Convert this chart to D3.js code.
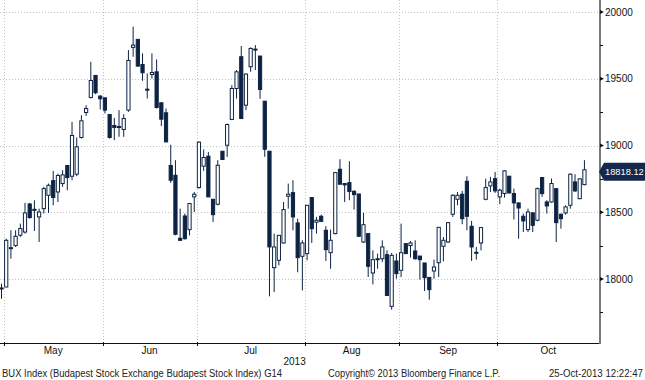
<!DOCTYPE html>
<html><head><meta charset="utf-8">
<script src="https://cdn.jsdelivr.net/npm/d3@7"></script>
<style>html,body{margin:0;padding:0;background:#fff;}svg{display:block;font-family:"Liberation Sans",Arial,sans-serif;}</style>
</head><body>
<svg id="chart" width="645" height="380"></svg>
<script>
const openV=[17933,17940,18228,18250,18328,18352,18562,18522,18465,18527,
18627,18737,18652,18715,18850,18770,18785,19060,19247,19360,
19525,19370,19357,19232,19150,19142,19120,19265,19735,19795,
19607,19422,19532,19552,19320,19245,18850,18777,18305,18472,
18370,18615,18685,18845,18920,18597,18560,18957,19002,19195,
19427,19665,19302,19590,19720,19670,19332,18957,18085,18140,
18270,18620,18647,18420,18170,18190,18610,18425,18470,18365,
18197,18340,18822,18715,18722,18657,18637,18277,18340,18045,
18148,18152,18182,17795,18135,18065,18265,18250,18210,18172,
18120,18012,18060,18122,18245,18277,18485,18597,18635,18732,
18395,18200,18270,18597,18697,18752,18615,18640,18770,18640,
18570,18470,18370,18495,18440,18760,18577,18577,18677,18485,
18495,18552,18727,18602,18707];
const highV=[17965,18302,18365,18365,18415,18570,18570,18590,18527,18690,
18715,18810,18790,18815,18850,19177,19060,19227,19302,19627,
19525,19377,19357,19232,19207,19265,19235,19715,19890,19795,
19690,19540,19690,19645,19320,19277,19005,18890,18527,18490,
18570,18652,19030,18970,18952,18597,18890,18957,19165,19452,
19565,19745,19540,19735,19752,19670,19332,18957,18340,18327,
18577,18715,18740,18452,18290,18552,18610,18465,18482,18395,
18370,18802,18897,18715,18882,18665,18637,18495,18340,18215,
18190,18290,18215,18195,18190,18415,18265,18285,18290,18172,
18120,18012,18145,18387,18315,18427,18635,18652,18660,18770,
18435,18240,18390,18752,18765,18802,18677,18815,18770,18677,
18570,18490,18527,18502,18685,18760,18590,18752,18677,18490,
18552,18790,18785,18755,18890];
const lowV=[17852,17940,18152,18240,18315,18340,18452,18360,18277,18490,
18495,18552,18577,18690,18665,18740,18770,19052,19222,19352,
19385,19270,19240,19052,19040,19065,19065,19252,19665,19590,
19485,19352,19502,19277,19145,19025,18720,18327,18285,18295,
18327,18502,18677,18810,18615,18427,18552,18895,18915,19190,
19352,19202,19265,19552,19565,19350,18915,17870,17902,18102,
18265,18527,18365,18050,17915,18140,18270,18340,18427,18135,
18077,18335,18710,18577,18590,18520,18315,18270,18015,17960,
18077,18127,17877,17770,18002,18015,18190,18160,18145,17995,
17910,17845,18002,18015,18132,18270,18465,18552,18410,18365,
18135,18145,18215,18590,18652,18645,18560,18610,18640,18445,
18302,18352,18352,18352,18432,18615,18490,18572,18277,18377,
18482,18527,18652,18597,18702];
const closeV=[17925,18290,18235,18320,18378,18495,18460,18520,18502,18677,
18702,18610,18775,18780,18760,19075,18990,19185,19277,19487,
19395,19350,19265,19060,19135,19140,19202,19637,19752,19595,
19545,19418,19547,19285,19197,19027,18740,18335,18290,18302,
18565,18635,19025,18910,18615,18482,18852,18895,19157,19427,
19552,19202,19535,19727,19722,19420,18972,18240,18240,18327,
18520,18635,18465,18160,18270,18552,18377,18440,18432,18220,
18290,18797,18710,18705,18655,18632,18320,18407,18095,18145,
18152,18240,17877,18177,18040,18197,18190,18270,18152,18145,
18010,17920,18090,18387,18290,18422,18627,18627,18452,18470,
18240,18195,18385,18685,18727,18660,18665,18810,18645,18570,
18532,18435,18502,18402,18677,18640,18547,18715,18422,18452,
18540,18785,18660,18750,18818.12];
const monthLabels=["May","Jun","Jul","Aug","Sep","Oct"];
const monthStartIdx=[0.5,21.5,41.5,64.5,84.5,105.5];
const yTickValues=[18000,18500,19000,19500,20000];
const yMinorValues=[17750,18250,18750,19250,19750];
const yearLabel="2013";
const lastValue=18818.12;
const footerLeft="BUX Index (Budapest Stock Exchange Budapest Stock Index) G14";
const footerMid="Copyright\u00A9 2013 Bloomberg Finance L.P.";
const footerRight="25-Oct-2013 12:22:47";

const data=openV.map((o,i)=>({i,o,h:highV[i],l:lowV[i],c:closeV[i]}));
const svg=d3.select("#chart");
const plotRight=599, plotBottom=343;
const x=d3.scaleLinear().domain([-0.32,127.1]).range([0,plotRight]);
const y=d3.scaleLinear().domain([18000,20000]).range([279,12]);
const navy="#0d2344";
const grid="#c4c4c4";

// gridlines
const g=svg.append("g");
g.selectAll("line.hg").data(yTickValues).join("line")
 .attr("x1",0).attr("x2",plotRight).attr("y1",d=>Math.round(y(d))+0.5).attr("y2",d=>Math.round(y(d))+0.5)
 .attr("stroke",grid).attr("stroke-dasharray","1,2");
g.selectAll("line.vg").data(monthStartIdx).join("line")
 .attr("x1",d=>Math.round(x(d))+0.5).attr("x2",d=>Math.round(x(d))+0.5).attr("y1",0).attr("y2",plotBottom)
 .attr("stroke",grid).attr("stroke-dasharray","1,2");

// candles
const bw=3.2;
const cg=svg.append("g");
cg.selectAll("line.w").data(data).join("line")
 .attr("x1",d=>x(d.i)).attr("x2",d=>x(d.i)).attr("y1",d=>y(d.h)).attr("y2",d=>y(d.l))
 .attr("stroke",navy).attr("stroke-width",1);
cg.selectAll("rect.b").data(data).join("rect")
 .attr("x",d=>x(d.i)-bw/2)
 .attr("y",d=>y(Math.max(d.o,d.c)))
 .attr("width",bw)
 .attr("height",d=>Math.max(1,Math.abs(y(d.o)-y(d.c))))
 .attr("fill",d=>d.c>=d.o?"#fff":navy)
 .attr("stroke",navy).attr("stroke-width",1);

// bottom axis
svg.append("line").attr("x1",0).attr("x2",plotRight+1).attr("y1",plotBottom+0.5).attr("y2",plotBottom+0.5).attr("stroke","#111");
svg.selectAll("line.mt").data(monthStartIdx).join("line")
 .attr("x1",d=>Math.round(x(d))+0.5).attr("x2",d=>Math.round(x(d))+0.5).attr("y1",plotBottom-1).attr("y2",plotBottom+3)
 .attr("stroke","#111");
const edges=monthStartIdx.concat([x.domain()[1]]);
svg.selectAll("text.ml").data(monthLabels).join("text")
 .attr("x",(d,i)=>(x(edges[i])+x(edges[i+1]))/2).attr("y",354)
 .attr("text-anchor","middle").attr("font-size",10).attr("fill","#111").text(d=>d);
svg.append("text").attr("x",x(monthStartIdx[3])+1).attr("y",365).attr("text-anchor","end")
 .attr("font-size",10).attr("fill","#111").text(yearLabel);

// right axis
svg.append("line").attr("x1",plotRight+1).attr("x2",plotRight+1).attr("y1",0).attr("y2",plotBottom+1)
 .attr("stroke","#7a7a7a").attr("stroke-width",2);
svg.selectAll("path.tk").data(yTickValues).join("path")
 .attr("d",d=>{const yy=y(d);return `M${plotRight+1},${yy-2}L${plotRight+5},${yy}L${plotRight+1},${yy+2}Z`;})
 .attr("fill","#111");
svg.selectAll("line.mn").data(yMinorValues).join("line")
 .attr("x1",plotRight+1).attr("x2",plotRight+4).attr("y1",d=>Math.round(y(d))+0.5).attr("y2",d=>Math.round(y(d))+0.5)
 .attr("stroke","#111");
svg.selectAll("text.yl").data(yTickValues).join("text")
 .attr("x",605).attr("y",d=>y(d)+3.6).attr("font-size",10).attr("fill","#111").text(d=>d);

// last value label
const ly=y(lastValue)+2;
svg.append("path").attr("d",`M${plotRight},${ly}L${plotRight+5},${ly-9}L645,${ly-9}L645,${ly+9}L${plotRight+5},${ly+9}Z`).attr("fill","#13284a");
svg.append("text").attr("x",605).attr("y",ly+3.4).attr("font-size",9.3).attr("fill","#fff")
 .text(d3.format(".2f")(lastValue));

// footer
svg.append("text").attr("x",2).attr("y",377).attr("font-size",10).attr("fill","#222")
 .attr("textLength",280).attr("lengthAdjust","spacingAndGlyphs").text(footerLeft);
svg.append("text").attr("x",328).attr("y",377).attr("font-size",10).attr("fill","#222")
 .attr("textLength",172).attr("lengthAdjust","spacingAndGlyphs").text(footerMid);
svg.append("text").attr("x",549).attr("y",377).attr("font-size",10).attr("fill","#222")
 .attr("textLength",94).attr("lengthAdjust","spacingAndGlyphs").text(footerRight);
</script>
</body></html>
